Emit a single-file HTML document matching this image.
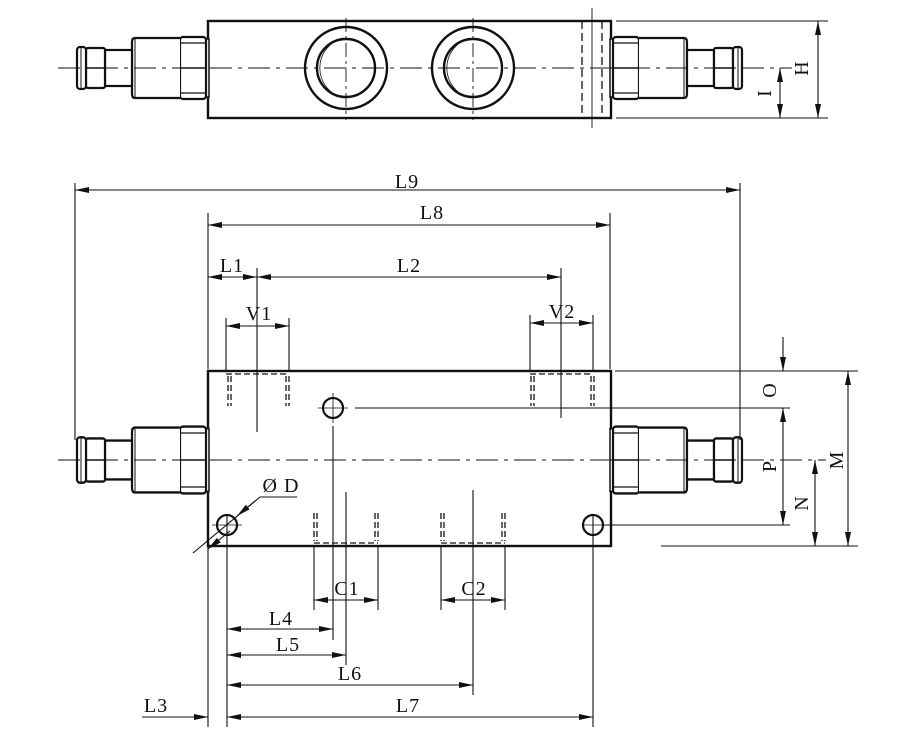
<!DOCTYPE html>
<html><head><meta charset="utf-8"><style>
html,body{margin:0;padding:0;background:#fff;}
svg{display:block;}
text{font-family:"Liberation Serif",serif;font-size:20px;fill:#111;letter-spacing:1px;}
</style></head><body>
<svg width="900" height="744" viewBox="0 0 900 744" xmlns="http://www.w3.org/2000/svg">
<defs>
<marker id="a" viewBox="0 0 14 6" refX="14" refY="3" markerWidth="14" markerHeight="6" markerUnits="userSpaceOnUse" orient="auto-start-reverse">
<path d="M0,0 L14,3 L0,6 Z" fill="#111"/></marker>
<g id="fit" stroke="#111" fill="#fff">
 <rect x="205" y="-29" width="4" height="58" stroke-width="1.5"/>
 <rect x="180" y="-31" width="26" height="62" rx="3" stroke-width="2.2"/>
 <line x1="181" y1="-25" x2="205" y2="-25" stroke-width="1.2"/>
 <line x1="181" y1="25" x2="205" y2="25" stroke-width="1.2"/>
 <line x1="181" y1="0" x2="205" y2="0" stroke-width="1.4"/>
 <path d="M180,-30 L135,-30 Q132,-30 132,-26 L132,26 Q132,30 135,30 L180,30" stroke-width="2.2"/>
 <line x1="135" y1="-29" x2="135" y2="29" stroke-width="1"/>
 <rect x="105" y="-18" width="27" height="36" stroke-width="2.2"/>
 <rect x="86" y="-20" width="19" height="40" rx="2" stroke-width="2.2"/>
 <line x1="86" y1="0" x2="105" y2="0" stroke-width="1.4"/>
 <rect x="77" y="-21" width="9" height="42" rx="3" stroke-width="2.2"/>
 <line x1="81" y1="-21" x2="81" y2="21" stroke-width="1"/>
</g>
</defs>

<!-- TOP VIEW -->
<g stroke="#111" fill="none">
 <rect x="208" y="21" width="403" height="97" stroke-width="2.4"/>
 <use href="#fit" transform="translate(0,68)"/>
 <use href="#fit" transform="translate(819,68) scale(-1,1)"/>
 <circle cx="346" cy="68" r="41" stroke-width="2.4"/>
 <circle cx="346" cy="68" r="29" stroke-width="2.4"/>
 <path d="M343,38 A31,31 0 0 0 343,98" stroke-width="0.8"/>
 <circle cx="473" cy="68" r="41" stroke-width="2.4"/>
 <circle cx="473" cy="68" r="29" stroke-width="2.4"/>
 <path d="M470,38 A31,31 0 0 0 470,98" stroke-width="0.8"/>
 <line x1="346" y1="18" x2="346" y2="120" stroke-width="0.9" stroke-dasharray="14,4,3,4"/>
 <line x1="473" y1="18" x2="473" y2="120" stroke-width="0.9" stroke-dasharray="14,4,3,4"/>
 <line x1="582" y1="21" x2="582" y2="118" stroke-width="1.3" stroke-dasharray="8,4"/>
 <line x1="602" y1="21" x2="602" y2="118" stroke-width="1.3" stroke-dasharray="8,4"/>
 <line x1="592" y1="8" x2="592" y2="128" stroke-width="0.9"/>
 <line x1="58" y1="68" x2="792" y2="68" stroke-width="1" stroke-dasharray="22,6,4,6"/>
 <line x1="616" y1="21" x2="828" y2="21" stroke-width="1.1"/>
 <line x1="616" y1="118" x2="828" y2="118" stroke-width="1.1"/>
 <line x1="818" y1="21" x2="818" y2="118" stroke-width="1.1" marker-start="url(#a)" marker-end="url(#a)"/>
 <line x1="780" y1="68" x2="780" y2="118" stroke-width="1.1" marker-start="url(#a)" marker-end="url(#a)"/>
</g>
<text transform="translate(808,68) rotate(-90)" text-anchor="middle">H</text>
<text transform="translate(771,93) rotate(-90)" text-anchor="middle">I</text>

<!-- FRONT VIEW -->
<g stroke="#111" fill="none">
 <rect x="208" y="371" width="403" height="175" stroke-width="2.4"/>
 <use href="#fit" transform="translate(0,460) scale(1,1.08)"/>
 <use href="#fit" transform="translate(819,460) scale(-1,1.08)"/>
 <line x1="58" y1="460" x2="826" y2="460" stroke-width="1" stroke-dasharray="22,6,4,6"/>
 <g stroke-width="1.3" stroke-dasharray="6,3">
  <line x1="226" y1="374" x2="289" y2="374"/>
  <line x1="228" y1="376" x2="228" y2="406"/><line x1="231" y1="376" x2="231" y2="406"/>
  <line x1="286" y1="376" x2="286" y2="406"/><line x1="289" y1="376" x2="289" y2="406"/>
  <line x1="530" y1="374" x2="593" y2="374"/>
  <line x1="531" y1="376" x2="531" y2="406"/><line x1="534" y1="376" x2="534" y2="406"/>
  <line x1="591" y1="376" x2="591" y2="406"/><line x1="594" y1="376" x2="594" y2="406"/>
  <line x1="314" y1="543" x2="378" y2="543"/>
  <line x1="314" y1="513" x2="314" y2="541"/><line x1="317" y1="513" x2="317" y2="541"/>
  <line x1="375" y1="513" x2="375" y2="541"/><line x1="378" y1="513" x2="378" y2="541"/>
  <line x1="441" y1="543" x2="505" y2="543"/>
  <line x1="441" y1="513" x2="441" y2="541"/><line x1="444" y1="513" x2="444" y2="541"/>
  <line x1="502" y1="513" x2="502" y2="541"/><line x1="505" y1="513" x2="505" y2="541"/>
 </g>
 <circle cx="333" cy="408" r="10" stroke-width="2.2"/>
 <circle cx="227" cy="525" r="10" stroke-width="2.2"/>
 <circle cx="593" cy="525" r="10" stroke-width="2.2"/>
 <g stroke-width="0.8">
  <line x1="318" y1="408" x2="348" y2="408"/><line x1="333" y1="393" x2="333" y2="423"/>
  <line x1="212" y1="525" x2="242" y2="525"/><line x1="583" y1="525" x2="603" y2="525"/>
 </g>
 <g stroke-width="1.1">
  <line x1="355" y1="408" x2="790" y2="408"/>
  <line x1="333" y1="426" x2="333" y2="640"/>
  <line x1="346" y1="492" x2="346" y2="665"/>
  <line x1="473" y1="490" x2="473" y2="695"/>
  <line x1="314" y1="546" x2="314" y2="610"/><line x1="378" y1="546" x2="378" y2="610"/>
  <line x1="441" y1="546" x2="441" y2="610"/><line x1="505" y1="546" x2="505" y2="610"/>
  <line x1="227" y1="514" x2="227" y2="727"/>
  <line x1="208" y1="546" x2="208" y2="727"/>
  <line x1="593" y1="514" x2="593" y2="727"/>
  <line x1="75" y1="183" x2="75" y2="440"/>
  <line x1="740" y1="183" x2="740" y2="440"/>
  <line x1="208" y1="213" x2="208" y2="369"/>
  <line x1="610" y1="213" x2="610" y2="369"/>
  <line x1="257" y1="268" x2="257" y2="432"/>
  <line x1="561" y1="268" x2="561" y2="418"/>
  <line x1="226" y1="318" x2="226" y2="370"/><line x1="289" y1="318" x2="289" y2="370"/>
  <line x1="530" y1="315" x2="530" y2="370"/><line x1="593" y1="315" x2="593" y2="370"/>
  <line x1="615" y1="371" x2="858" y2="371"/>
  <line x1="603" y1="525" x2="790" y2="525"/>
  <line x1="661" y1="546" x2="858" y2="546"/>
 </g>
 <g stroke-width="1.1">
  <line x1="75" y1="190" x2="740" y2="190" marker-start="url(#a)" marker-end="url(#a)"/>
  <line x1="208" y1="225" x2="610" y2="225" marker-start="url(#a)" marker-end="url(#a)"/>
  <line x1="208" y1="277" x2="257" y2="277" marker-start="url(#a)" marker-end="url(#a)"/>
  <line x1="257" y1="277" x2="561" y2="277" marker-start="url(#a)" marker-end="url(#a)"/>
  <line x1="226" y1="326" x2="289" y2="326" marker-start="url(#a)" marker-end="url(#a)"/>
  <line x1="530" y1="323" x2="593" y2="323" marker-start="url(#a)" marker-end="url(#a)"/>
  <line x1="314" y1="600" x2="378" y2="600" marker-start="url(#a)" marker-end="url(#a)"/>
  <line x1="441" y1="600" x2="505" y2="600" marker-start="url(#a)" marker-end="url(#a)"/>
  <line x1="227" y1="629" x2="333" y2="629" marker-start="url(#a)" marker-end="url(#a)"/>
  <line x1="227" y1="655" x2="346" y2="655" marker-start="url(#a)" marker-end="url(#a)"/>
  <line x1="227" y1="685" x2="473" y2="685" marker-start="url(#a)" marker-end="url(#a)"/>
  <line x1="227" y1="717" x2="593" y2="717" marker-start="url(#a)" marker-end="url(#a)"/>
  <line x1="142" y1="717" x2="208" y2="717" marker-end="url(#a)"/>
  <line x1="783" y1="337" x2="783" y2="371" marker-end="url(#a)"/>
  <line x1="783" y1="408" x2="783" y2="525" marker-start="url(#a)" marker-end="url(#a)"/>
  <line x1="815" y1="460" x2="815" y2="546" marker-start="url(#a)" marker-end="url(#a)"/>
  <line x1="848" y1="371" x2="848" y2="546" marker-start="url(#a)" marker-end="url(#a)"/>
  <line x1="193" y1="553" x2="260" y2="497"/>
  <line x1="260" y1="497" x2="297" y2="497"/>
  <line x1="230" y1="531" x2="208" y2="549" marker-end="url(#a)"/>
  <line x1="255" y1="501" x2="237" y2="516" marker-end="url(#a)"/>
 </g>
</g>
<g>
<text x="407" y="188" text-anchor="middle">L9</text>
<text x="432" y="219" text-anchor="middle">L8</text>
<text x="232" y="272" text-anchor="middle">L1</text>
<text x="409" y="272" text-anchor="middle">L2</text>
<text x="259" y="320" text-anchor="middle">V1</text>
<text x="562" y="318" text-anchor="middle">V2</text>
<text x="281" y="492" text-anchor="middle">Ø D</text>
<text x="347" y="595" text-anchor="middle">C1</text>
<text x="474" y="595" text-anchor="middle">C2</text>
<text x="281" y="625" text-anchor="middle">L4</text>
<text x="288" y="651" text-anchor="middle">L5</text>
<text x="350" y="680" text-anchor="middle">L6</text>
<text x="408" y="712" text-anchor="middle">L7</text>
<text x="156" y="712" text-anchor="middle">L3</text>
<text transform="translate(776,390) rotate(-90)" text-anchor="middle">O</text>
<text transform="translate(776,466) rotate(-90)" text-anchor="middle">P</text>
<text transform="translate(808,503) rotate(-90)" text-anchor="middle">N</text>
<text transform="translate(843,460) rotate(-90)" text-anchor="middle">M</text>
</g>
</svg>
</body></html>
